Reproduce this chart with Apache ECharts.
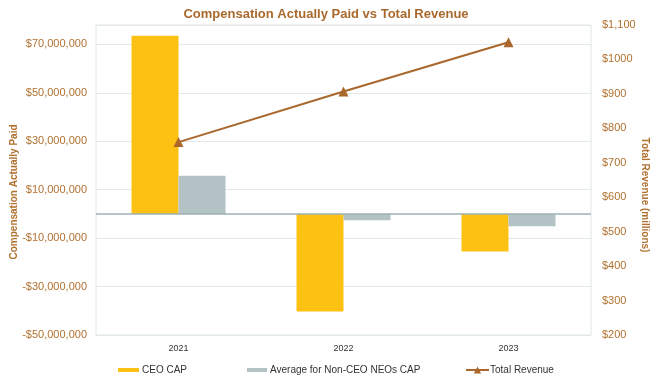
<!DOCTYPE html>
<html><head><meta charset="utf-8">
<script src="https://cdn.jsdelivr.net/npm/echarts@6/dist/echarts.min.js"></script>
<style>html,body{margin:0;padding:0;background:#fff}#c{width:652px;height:376px}</style>
</head><body><div id="c"></div>
<script>
const categories = ['2021', '2022', '2023'];
const ceoCap = [73600000, -40300000, -15500000];
const nonCeoCap = [15800000, -2600000, -5100000];
const totalRevenue = [760, 907, 1050];
const leftTickValues = [-50000000, -30000000, -10000000, 10000000, 30000000, 50000000, 70000000];
const leftTickLabels = ['-$50,000,000', '-$30,000,000', '-$10,000,000', '$10,000,000', '$30,000,000', '$50,000,000', '$70,000,000'];
const rightTickValues = [200, 300, 400, 500, 600, 700, 800, 900, 1000, 1100];
const rightTickLabels = ['$200', '$300', '$400', '$500', '$600', '$700', '$800', '$900', '$1000', '$1,100'];
const seriesNames = ['CEO CAP', 'Average for Non-CEO NEOs CAP', 'Total Revenue'];
const axisNames = ['Compensation Actually Paid', 'Total Revenue (millions)'];

const brown = '#b0702f';
const font = "'Liberation Sans', Arial, sans-serif";
const chart = echarts.init(document.getElementById('c'), null, {renderer: 'canvas'});
chart.setOption({
  animation: false,
  backgroundColor: '#ffffff',
  title: {
    text: 'Compensation Actually Paid vs Total Revenue',
    left: 'center', top: 3,
    textStyle: {color: '#a9692c', fontSize: 13, fontWeight: 'bold', fontFamily: font}
  },
  grid: {left: 96, right: 61, top: 25, bottom: 41, show: true, borderColor: '#dfe6e8', borderWidth: 1,
         containLabel: false, outerBoundsMode: 'none'},
  graphic: [
    {type: 'text', x: 14, y: 192, rotation: Math.PI / 2, silent: true,
     style: {text: axisNames[0], fill: brown, font: "bold 10px 'Liberation Sans', Arial, sans-serif", textAlign: 'center', textVerticalAlign: 'middle'}},
    {type: 'text', x: 645, y: 195, rotation: -Math.PI / 2, silent: true,
     style: {text: axisNames[1], fill: brown, font: "bold 10px 'Liberation Sans', Arial, sans-serif", textAlign: 'center', textVerticalAlign: 'middle'}}
  ],
  legend: [
    {data: [seriesNames[0]], left: 113, top: 360, itemWidth: 21, itemHeight: 4, itemGap: 0, icon: 'rect',
     textStyle: {color: '#333', fontSize: 10, fontFamily: font, padding: [0,0,0,-2]}},
    {data: [seriesNames[1]], left: 242, top: 360, itemWidth: 20, itemHeight: 4, itemGap: 0, icon: 'rect',
     textStyle: {color: '#333', fontSize: 10, fontFamily: font, padding: [0,0,0,-2]}},
    {data: [seriesNames[2]], left: 460, top: 360, itemWidth: 23, itemHeight: 9, itemGap: 0,
     textStyle: {color: '#333', fontSize: 10, fontFamily: font, padding: [0,0,0,-4]}}
  ],
  xAxis: {
    type: 'category', data: categories,
    axisLine: {show: false}, axisTick: {show: false},
    axisLabel: {color: '#333', fontSize: 9, fontFamily: font, margin: 9}
  },
  yAxis: [
    {
      type: 'value', min: -50000000, max: 78000000, interval: 20000000, position: 'left',
      axisLine: {show: false}, axisTick: {show: false},
      axisLabel: {color: brown, fontSize: 11, fontFamily: font, margin: 9, showMaxLabel: false,
        formatter: v => { const i = leftTickValues.indexOf(v); return i >= 0 ? leftTickLabels[i] : ''; }},
      splitLine: {show: true, lineStyle: {color: '#e3e9eb', width: 1}}
    },
    {
      type: 'value', min: 200, max: 1100, interval: 100, position: 'right',
      axisLine: {show: false}, axisTick: {show: false},
      axisLabel: {color: brown, fontSize: 11, fontFamily: font, margin: 11,
        formatter: v => { const i = rightTickValues.indexOf(v); return i >= 0 ? rightTickLabels[i] : ''; }},
      splitLine: {show: false}
    }
  ],
  series: [
    {
      name: seriesNames[0], type: 'bar', data: ceoCap, yAxisIndex: 0,
      barWidth: 47, barGap: '0%',
      itemStyle: {color: '#fdc113'},
      markLine: {silent: true, symbol: 'none', label: {show: false},
        lineStyle: {color: '#9cb0b5', type: 'solid', width: 1.5},
        data: [{yAxis: 0}]}
    },
    {
      name: seriesNames[1], type: 'bar', data: nonCeoCap, yAxisIndex: 0,
      barWidth: 47, barGap: '0%',
      itemStyle: {color: '#b3c2c5'}
    },
    {
      name: seriesNames[2], type: 'line', data: totalRevenue, yAxisIndex: 1,
      symbol: 'triangle', symbolSize: 10,
      lineStyle: {color: '#a9672b', width: 2},
      itemStyle: {color: '#a9672b'},
      z: 5
    }
  ]
});
</script></body></html>
